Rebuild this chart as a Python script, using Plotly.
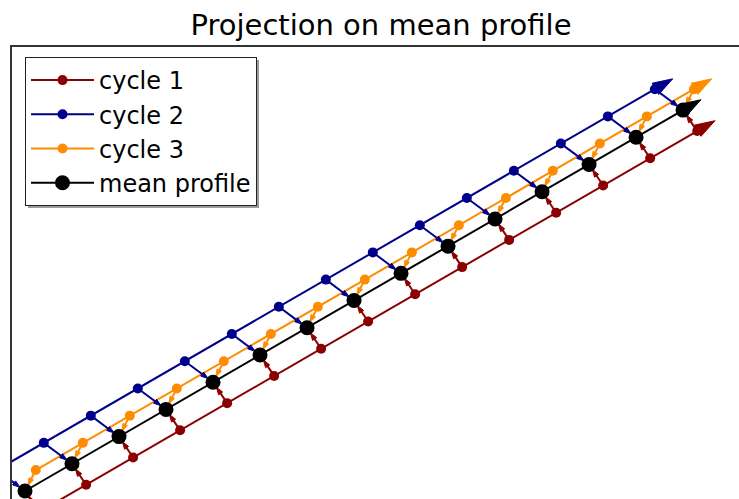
import plotly.graph_objects as go

# ---- data ----
mean_x = [0, 1, 2, 3, 4, 5, 6, 7, 8, 9, 10, 11, 12, 13, 14]
mean_y = [0, 1, 2, 3, 4, 5, 6, 7, 8, 9, 10, 11, 12, 13, 14]

cycle1_x = [0.3, 1.3, 2.3, 3.3, 4.3, 5.3, 6.3, 7.3, 8.3, 9.3, 10.3, 11.3, 12.3, 13.3, 14.3]
cycle1_y = [-0.77, 0.23, 1.23, 2.23, 3.23, 4.23, 5.23, 6.23, 7.23, 8.23, 9.23, 10.23, 11.23, 12.23, 13.23]

cycle2_x = [-0.6, 0.4, 1.4, 2.4, 3.4, 4.4, 5.4, 6.4, 7.4, 8.4, 9.4, 10.4, 11.4, 12.4, 13.4]
cycle2_y = [0.77, 1.77, 2.77, 3.77, 4.77, 5.77, 6.77, 7.77, 8.77, 9.77, 10.77, 11.77, 12.77, 13.77, 14.77]

cycle3_x = [0.23, 1.23, 2.23, 3.23, 4.23, 5.23, 6.23, 7.23, 8.23, 9.23, 10.23, 11.23, 12.23, 13.23, 14.23]
cycle3_y = [0.77, 1.77, 2.77, 3.77, 4.77, 5.77, 6.77, 7.77, 8.77, 9.77, 10.77, 11.77, 12.77, 13.77, 14.77]

names = ["cycle 1", "cycle 2", "cycle 3"]
colors = ["#8B0000", "#00008B", "#FF8C00"]
cycles = [(cycle1_x, cycle1_y), (cycle2_x, cycle2_y), (cycle3_x, cycle3_y)]

FONT = "DejaVu Sans"
W, H = 739, 499
ML, MT = 12, 47
PW, PH = W - ML, H - MT


def paper_x(p):
    return (p - ML) / PW


def paper_y(p):
    return 1 - (p - MT) / PH


fig = go.Figure()

# cycle series
for (cx, cy), name, col in zip(cycles, names, colors):
    fig.add_trace(go.Scatter(
        x=cx, y=cy, mode="lines+markers", name=name,
        line=dict(color=col, width=2),
        marker=dict(color=col, size=10, symbol="circle"),
        legendgroup=name,
    ))

# projection arrows (cycle point -> mean profile point)
for (cx, cy), name, col in zip(cycles, names, colors):
    px, py, sym, size = [], [], [], []
    for i in range(len(mean_x)):
        px += [cx[i], mean_x[i], None]
        py += [cy[i], mean_y[i], None]
        sym += ["circle", "arrow", "circle"]
        size += [0, 8, 0]
    fig.add_trace(go.Scatter(
        x=px, y=py, mode="lines+markers", showlegend=False, hoverinfo="skip",
        line=dict(color=col, width=2),
        marker=dict(color=col, size=size, symbol=sym, angleref="previous", standoff=6,
                    opacity=1, line=dict(color=col, width=1)),
    ))

# mean profile
fig.add_trace(go.Scatter(
    x=mean_x, y=mean_y, mode="lines+markers", name="mean profile",
    line=dict(color="black", width=2),
    marker=dict(color="black", size=15, symbol="circle"),
    legendgroup="mean",
))

# arrowheads at the end of each profile
ends = cycles + [(mean_x, mean_y)]
end_cols = colors + ["black"]
for (sx, sy), col in zip(ends, end_cols):
    lx, ly = sx[-1], sy[-1]
    tx = lx + 0.38 * (sx[-1] - sx[-2])
    ty = ly + 0.38 * (sy[-1] - sy[-2])
    fig.add_trace(go.Scatter(
        x=[lx, tx], y=[ly, ty], mode="lines+markers", showlegend=False,
        hoverinfo="skip", line=dict(color=col, width=2),
        marker=dict(color=col, size=[0, 21], symbol=["circle", "arrow"],
                    angleref="previous", opacity=1, line=dict(color=col, width=1)),
    ))

# legend drop shadow
fig.add_shape(type="rect", xref="paper", yref="paper", layer="above",
              x0=paper_x(28), x1=paper_x(259), y0=paper_y(208), y1=paper_y(60),
              fillcolor="#9a9a9a", line=dict(width=0))

fig.update_layout(
    width=W, height=H,
    margin=dict(l=ML, r=0, t=MT, b=0),
    paper_bgcolor="white", plot_bgcolor="white",
    title=dict(text="Projection on mean profile", xref="container",
               x=381 / W, xanchor="center",
               y=1 - 25 / H, yanchor="middle",
               font=dict(family=FONT, size=29, color="black")),
    xaxis=dict(range=[-0.2766, 15.19], side="top", showline=True, linecolor="#333",
               linewidth=1.5, showgrid=False, zeroline=False, showticklabels=False,
               ticks=""),
    yaxis=dict(range=[-0.294, 16.32], showline=True, linecolor="#333",
               linewidth=1.5, showgrid=False, zeroline=False, showticklabels=False,
               ticks=""),
    legend=dict(x=paper_x(25), y=paper_y(57), xanchor="left", yanchor="top",
                bgcolor="white", bordercolor="#222", borderwidth=1,
                font=dict(family=FONT, size=24, color="black"),
                itemwidth=63, tracegroupgap=0, traceorder="grouped"),
    showlegend=True,
)

fig.write_html(
    "out.html",
    config={"displayModeBar": False},
    post_script="document.body.style.margin='0px';document.body.style.overflow='hidden';",
)
